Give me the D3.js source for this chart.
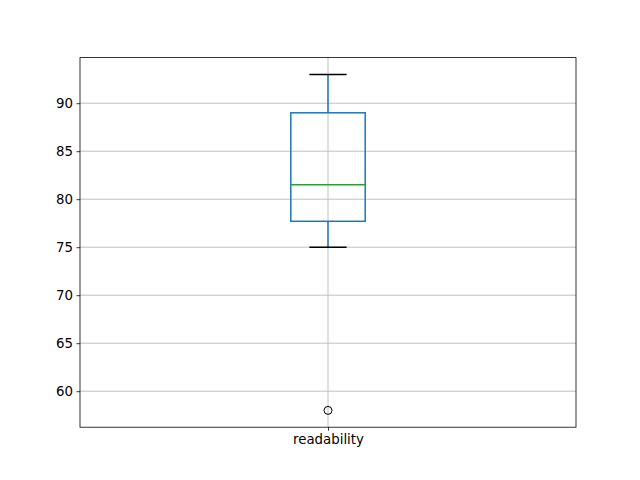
<!DOCTYPE html>
<html>
<head>
<meta charset="utf-8">
<script src="https://cdn.jsdelivr.net/npm/d3@7"></script>
<style>
  body { margin: 0; background: #fff; }
  text { font-family: "DejaVu Sans", sans-serif; }
</style>
</head>
<body>
<div class="chart"></div>
<script>
// box statistics
var categories = ["readability"];
var q1 = [77.7];
var medians = [81.5];
var q3 = [89];
var whiskerLow = [75];
var whiskerHigh = [93];
var outliers = [[58]];
var yTicks = [60, 65, 70, 75, 80, 85, 90];

var svgWidth = 640;
var svgHeight = 480;
var margin = {top: 57.6, right: 64, bottom: 52.8, left: 80};
var chartWidth = svgWidth - margin.left - margin.right;
var chartHeight = svgHeight - margin.top - margin.bottom;

var svg = d3.select(".chart")
  .append("svg")
  .attr("width", svgWidth)
  .attr("height", svgHeight);

var chart = svg.append("g")
  .attr("transform", "translate(" + margin.left + "," + margin.top + ")");

// x: positions 1..n, limits 0.5..n+0.5
var xScale = d3.scaleLinear()
  .domain([0.5, categories.length + 0.5])
  .range([0, chartWidth]);

var yScale = d3.scaleLinear()
  .domain([56.25, 94.75])
  .range([chartHeight, 0]);

// grid lines
chart.selectAll(".ygrid")
  .data(yTicks)
  .enter().append("line")
  .attr("x1", 0).attr("x2", chartWidth)
  .attr("y1", function(d) { return yScale(d); })
  .attr("y2", function(d) { return yScale(d); })
  .attr("stroke", "#b0b0b0")
  .attr("stroke-width", 0.8);

chart.selectAll(".xgrid")
  .data(categories)
  .enter().append("line")
  .attr("x1", function(d, i) { return xScale(i + 1); })
  .attr("x2", function(d, i) { return xScale(i + 1); })
  .attr("y1", 0).attr("y2", chartHeight)
  .attr("stroke", "#b0b0b0")
  .attr("stroke-width", 0.8);

var boxW = 0.15 * (xScale(1) - xScale(0));
var capW = boxW / 2;

categories.forEach(function(c, i) {
  var cx = xScale(i + 1);
  var g = chart.append("g");

  // whiskers
  g.append("line")
    .attr("x1", cx).attr("x2", cx)
    .attr("y1", yScale(q1[i])).attr("y2", yScale(whiskerLow[i]))
    .attr("stroke", "#1f77b4").attr("stroke-width", 1.5);
  g.append("line")
    .attr("x1", cx).attr("x2", cx)
    .attr("y1", yScale(q3[i])).attr("y2", yScale(whiskerHigh[i]))
    .attr("stroke", "#1f77b4").attr("stroke-width", 1.5);

  // caps
  [whiskerLow[i], whiskerHigh[i]].forEach(function(v) {
    g.append("line")
      .attr("x1", cx - capW / 2).attr("x2", cx + capW / 2)
      .attr("y1", yScale(v)).attr("y2", yScale(v))
      .attr("stroke", "#000").attr("stroke-width", 1.5);
  });

  // box
  g.append("rect")
    .attr("x", cx - boxW / 2)
    .attr("y", yScale(q3[i]))
    .attr("width", boxW)
    .attr("height", yScale(q1[i]) - yScale(q3[i]))
    .attr("fill", "none")
    .attr("stroke", "#1f77b4").attr("stroke-width", 1.5);

  // median
  g.append("line")
    .attr("x1", cx - boxW / 2).attr("x2", cx + boxW / 2)
    .attr("y1", yScale(medians[i])).attr("y2", yScale(medians[i]))
    .attr("stroke", "#2ca02c").attr("stroke-width", 1.5);

  // fliers
  g.selectAll(".flier")
    .data(outliers[i])
    .enter().append("circle")
    .attr("cx", cx)
    .attr("cy", function(d) { return yScale(d); })
    .attr("r", 4)
    .attr("fill", "none")
    .attr("stroke", "#000")
    .attr("stroke-width", 1);
});

// axes
var leftAxis = d3.axisLeft(yScale).tickValues(yTicks).tickSize(3.5).tickPadding(3.5);
var bottomAxis = d3.axisBottom(xScale)
  .tickValues(categories.map(function(d, i) { return i + 1; }))
  .tickFormat(function(d) { return categories[d - 1]; })
  .tickSize(3.5).tickPadding(3.5);

var yAxisG = chart.append("g").call(leftAxis);
var xAxisG = chart.append("g")
  .attr("transform", "translate(0," + chartHeight + ")")
  .call(bottomAxis);

[yAxisG, xAxisG].forEach(function(a) {
  a.select(".domain").remove();
  a.selectAll(".tick line").attr("stroke", "#000").attr("stroke-width", 0.8);
  a.selectAll(".tick text")
    .attr("fill", "#000")
    .style("font-size", "13.33px")
    .style("font-family", "DejaVu Sans, sans-serif");
});

// frame
chart.append("rect")
  .attr("x", 0).attr("y", 0)
  .attr("width", chartWidth).attr("height", chartHeight)
  .attr("fill", "none")
  .attr("stroke", "#000")
  .attr("stroke-width", 0.8);
</script>
</body>
</html>
